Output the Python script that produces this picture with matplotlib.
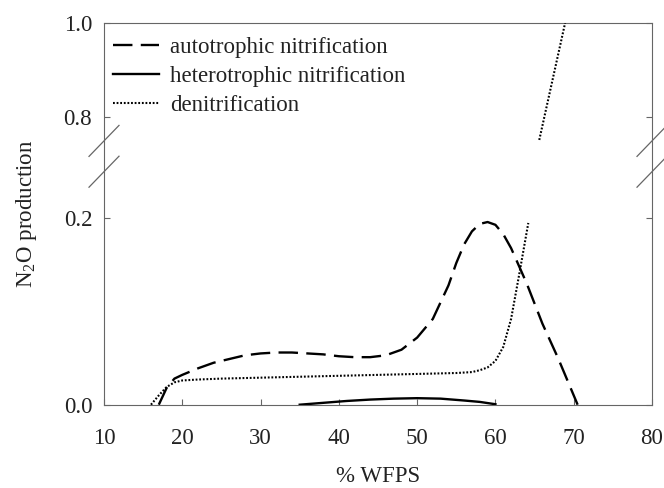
import numpy as np
import matplotlib.pyplot as plt

plt.rcParams['font.family'] = ['Liberation Serif', 'DejaVu Serif']
plt.rcParams['mathtext.fontset'] = 'custom'
plt.rcParams['mathtext.rm'] = 'Liberation Serif'
plt.rcParams['lines.scale_dashes'] = False

# data (x = % WFPS, y = relative N2O production)
auto_x = [17, 18, 19, 20, 22, 24, 26, 28, 30, 32, 34, 36, 38, 40, 42, 44, 46,
          48, 50, 52, 54, 55, 56, 57, 58, 59, 60, 61, 62, 64, 66, 68, 70.5]
auto_y = [0.0, 0.018, 0.028, 0.032, 0.039, 0.045, 0.049, 0.053, 0.055, 0.056,
          0.056, 0.055, 0.054, 0.052, 0.051, 0.051, 0.053, 0.059, 0.072, 0.092,
          0.128, 0.152, 0.172, 0.186, 0.194, 0.196, 0.193, 0.183, 0.168, 0.13,
          0.087, 0.05, 0.0]

hetero_x = [35, 38, 41, 44, 47, 50, 53, 56, 58, 60]
hetero_y = [0.0, 0.002, 0.004, 0.0055, 0.0065, 0.007, 0.0065, 0.0045, 0.003, 0.0005]

# nan marks the part hidden by the axis break
denit_x = [16, 17, 18, 19, 20, 22, 25, 30, 35, 40, 45, 50, 55, 57, 58, 59, 60,
           61, 62, 63, 64.2, np.nan, 65.6, 68.9]
denit_y = [0.0, 0.010, 0.019, 0.024, 0.026, 0.027, 0.028, 0.029, 0.030, 0.031,
           0.032, 0.033, 0.034, 0.035, 0.037, 0.040, 0.047, 0.062, 0.092, 0.138,
           0.195, np.nan, 0.752, 1.0]

x_ticks = [10, 20, 30, 40, 50, 60, 70, 80]
low_ticks = [0.0, 0.2]
high_ticks = [0.8, 1.0]

W, H = 664, 488
fig = plt.figure(figsize=(W / 100, H / 100), dpi=100)

left, width = 104 / W, 548 / W
y_top, y_brk_hi, y_brk_lo, y_bot = 23, 140.9, 171.7, 404.7
spine_col = '#666666'
text_col = '#222222'
fs = 16.5

# frame axes holds the continuous outer box
frame = fig.add_axes([left, 1 - y_bot / H, width, (y_bot - y_top) / H])
frame.set_xticks([])
frame.set_yticks([])
frame.patch.set_visible(False)
for s in frame.spines.values():
    s.set_color(spine_col)
    s.set_linewidth(0.8)

ax_hi = fig.add_axes([left, 1 - y_brk_hi / H, width, (y_brk_hi - y_top) / H])
ax_lo = fig.add_axes([left, 1 - y_bot / H, width, (y_bot - y_brk_lo) / H])

styles = dict(
    auto=dict(color='black', lw=1.7, dashes=(14, 6)),
    hetero=dict(color='black', lw=1.7, linestyle='-'),
    denit=dict(color='black', lw=1.5, dashes=(1.3, 1.3)),
)

for ax in (ax_hi, ax_lo):
    ax.patch.set_visible(False)
    for s in ax.spines.values():
        s.set_visible(False)
    ax.plot(auto_x, auto_y, label='autotrophic nitrification', **styles['auto'])
    ax.plot(hetero_x, hetero_y, label='heterotrophic nitrification', **styles['hetero'])
    ax.plot(denit_x, denit_y, label='denitrification', **styles['denit'])
    ax.set_xlim(10, 80)
    ax.tick_params(axis='both', direction='in', length=4, width=0.8,
                   color=spine_col, labelsize=fs, labelcolor=text_col)
    ax.tick_params(axis='y', left=True, right=True, pad=8.5)

ax_hi.set_ylim(0.75, 1.0)
ax_hi.set_yticks(high_ticks)
ax_hi.set_yticklabels([f'{v:.1f}' for v in high_ticks])
ax_hi.set_xticks([])

ax_lo.set_ylim(0.0, 0.25)
ax_lo.set_yticks(low_ticks)
ax_lo.set_yticklabels([f'{v:.1f}' for v in low_ticks])
ax_lo.set_xticks(x_ticks)
ax_lo.tick_params(axis='x', pad=17)
ax_lo.set_xlabel('% WFPS', fontsize=fs, color=text_col, labelpad=12)

fig.text(27 / W, 1 - 214 / H, r'N$_2$O production', rotation=90,
         ha='center', va='center', fontsize=fs, color=text_col)

ax_hi.legend(loc='upper left', bbox_to_anchor=(9 / 548, 1 - 14 / (y_brk_hi - y_top)),
             frameon=False, fontsize=fs, handlelength=2.0,
             handletextpad=0.5, labelspacing=0.35, borderpad=0.0,
             borderaxespad=0.0, labelcolor=text_col)

# break marks on both spines
dx = 15 / 548
dy_hi = 15.5 / (y_brk_hi - y_top)
dy_lo = 15.5 / (y_bot - y_brk_lo)
brk = dict(color=spine_col, lw=0.9, clip_on=False)
for xa in (0, 1):
    ax_hi.plot([xa - dx, xa + dx], [-dy_hi, dy_hi], transform=ax_hi.transAxes, **brk)
    ax_lo.plot([xa - dx, xa + dx], [1 - dy_lo, 1 + dy_lo], transform=ax_lo.transAxes, **brk)

fig.savefig('out.png', dpi=100, facecolor='white')
